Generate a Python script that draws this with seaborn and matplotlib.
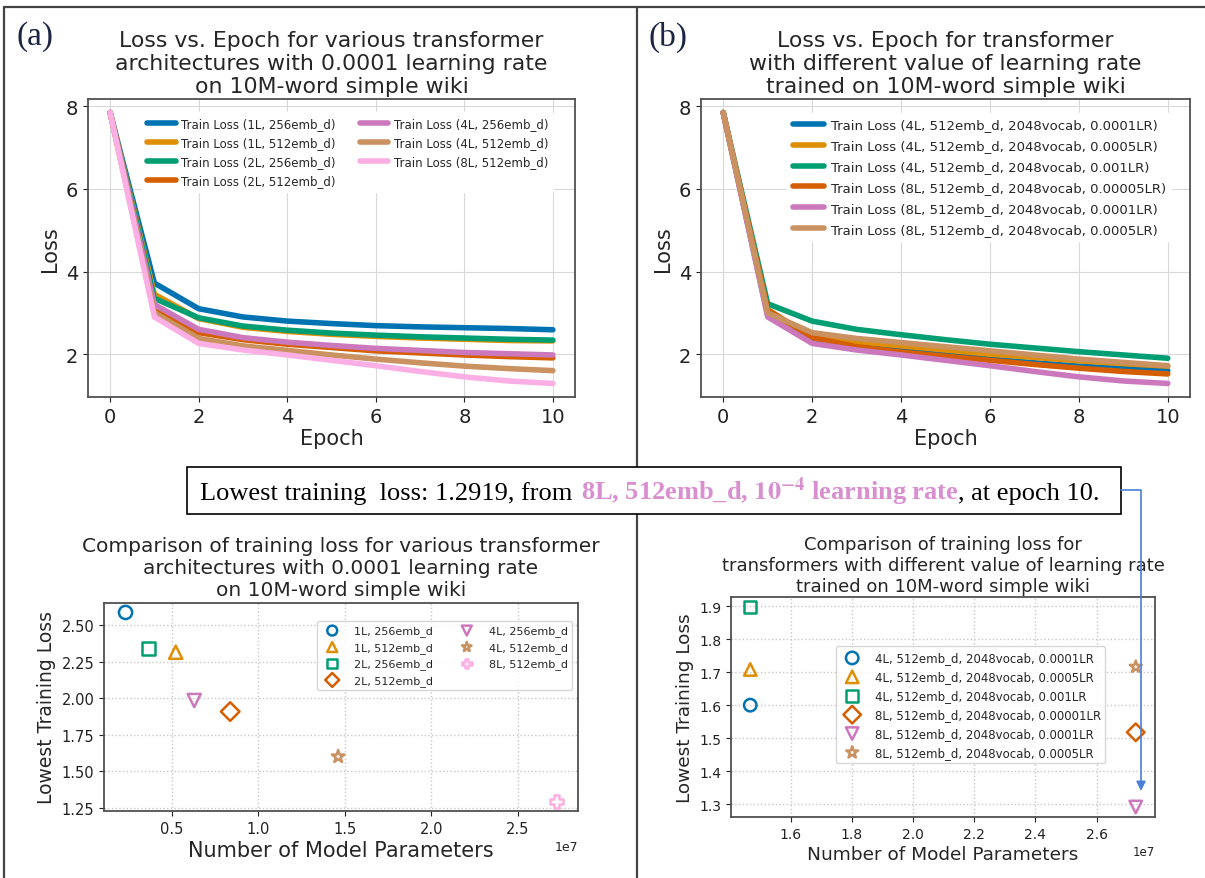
import numpy as np
import pandas as pd
import matplotlib
matplotlib.use("Agg")
import matplotlib.pyplot as plt
import seaborn as sns
from matplotlib.lines import Line2D
from matplotlib.patches import Rectangle, FancyArrowPatch
from matplotlib.offsetbox import TextArea, HPacker, AnchoredOffsetbox

W, H = 1205, 879

# ---- data ----
epochs = list(range(11))

# (a) architectures, lr 0.0001
arch_labels = ["Train Loss (1L, 256emb_d)", "Train Loss (1L, 512emb_d)",
               "Train Loss (2L, 256emb_d)", "Train Loss (2L, 512emb_d)",
               "Train Loss (4L, 256emb_d)", "Train Loss (4L, 512emb_d)",
               "Train Loss (8L, 512emb_d)"]
loss_1L_256 = [7.85, 3.72, 3.10, 2.90, 2.80, 2.74, 2.69, 2.66, 2.64, 2.62, 2.59]
loss_1L_512 = [7.85, 3.45, 2.86, 2.65, 2.55, 2.48, 2.43, 2.39, 2.36, 2.33, 2.32]
loss_2L_256 = [7.85, 3.35, 2.88, 2.68, 2.58, 2.51, 2.46, 2.42, 2.39, 2.36, 2.34]
loss_2L_512 = [7.85, 3.10, 2.52, 2.35, 2.24, 2.16, 2.08, 2.03, 1.98, 1.94, 1.91]
loss_4L_256 = [7.85, 3.20, 2.60, 2.40, 2.29, 2.21, 2.14, 2.09, 2.04, 2.01, 1.98]
loss_4L_512 = [7.85, 3.00, 2.38, 2.20, 2.09, 1.98, 1.88, 1.79, 1.71, 1.65, 1.60]
loss_8L_512 = [7.85, 2.90, 2.26, 2.10, 1.98, 1.85, 1.72, 1.58, 1.45, 1.35, 1.29]

# (b) learning rates
lr_labels = ["Train Loss (4L, 512emb_d, 2048vocab, 0.0001LR)",
             "Train Loss (4L, 512emb_d, 2048vocab, 0.0005LR)",
             "Train Loss (4L, 512emb_d, 2048vocab, 0.001LR)",
             "Train Loss (8L, 512emb_d, 2048vocab, 0.00005LR)",
             "Train Loss (8L, 512emb_d, 2048vocab, 0.0001LR)",
             "Train Loss (8L, 512emb_d, 2048vocab, 0.0005LR)"]
loss_4L_1e4 = [7.85, 2.95, 2.38, 2.20, 2.09, 1.98, 1.88, 1.79, 1.71, 1.65, 1.60]
loss_4L_5e4 = [7.85, 3.00, 2.45, 2.30, 2.20, 2.10, 2.00, 1.92, 1.84, 1.77, 1.71]
loss_4L_1e3 = [7.85, 3.22, 2.80, 2.60, 2.47, 2.35, 2.24, 2.15, 2.06, 1.98, 1.90]
loss_8L_5e5 = [7.85, 3.08, 2.40, 2.18, 2.05, 1.95, 1.85, 1.75, 1.66, 1.58, 1.52]
loss_8L_1e4 = [7.85, 2.90, 2.26, 2.10, 1.98, 1.85, 1.72, 1.58, 1.45, 1.35, 1.29]
loss_8L_5e4 = [7.85, 3.00, 2.52, 2.38, 2.28, 2.18, 2.08, 1.98, 1.88, 1.80, 1.72]

# (c) lowest loss vs parameters, architectures
arch_pt_labels = ["1L, 256emb_d", "1L, 512emb_d", "2L, 256emb_d", "2L, 512emb_d",
                  "4L, 256emb_d", "4L, 512emb_d", "8L, 512emb_d"]
arch_params = [0.233e7, 0.523e7, 0.368e7, 0.838e7, 0.630e7, 1.462e7, 2.724e7]
arch_lowest = [2.589, 2.316, 2.343, 1.909, 1.985, 1.600, 1.2919]
arch_markers = ["o", "^", "s", "D", "v", "*", "P"]

# (d) lowest loss vs parameters, learning rates
lr_pt_labels = ["4L, 512emb_d, 2048vocab, 0.0001LR", "4L, 512emb_d, 2048vocab, 0.0005LR",
                "4L, 512emb_d, 2048vocab, 0.001LR", "8L, 512emb_d, 2048vocab, 0.00001LR",
                "8L, 512emb_d, 2048vocab, 0.0001LR", "8L, 512emb_d, 2048vocab, 0.0005LR"]
lr_params = [1.468e7, 1.468e7, 1.468e7, 2.728e7, 2.728e7, 2.728e7]
lr_lowest = [1.600, 1.708, 1.897, 1.518, 1.2919, 1.716]
lr_markers = ["o", "^", "s", "D", "v", "*"]

# ---- style ----
sns.set_style("whitegrid", {"axes.edgecolor": "#505050", "grid.color": "#d9d9d9",
                            "xtick.bottom": True, "ytick.left": True,
                            "xtick.color": "#222222", "ytick.color": "#222222"})
plt.rcParams["font.family"] = ["DejaVu Sans"]
plt.rcParams["mathtext.fontset"] = "stix"
plt.rcParams["axes.linewidth"] = 1.3
palette = sns.color_palette("colorblind", 7)


def px_rect(left, top, right, bottom):
    """Figure-fraction rect from pixel edges (origin top-left)."""
    return [left / W, 1 - bottom / H, (right - left) / W, (bottom - top) / H]


fig = plt.figure(figsize=(W / 100, H / 100), dpi=100)


def line_panel(rect, labels, series, title, legend_kw):
    ax = fig.add_axes(rect)
    df = pd.DataFrame({
        "Epoch": np.tile(epochs, len(series)),
        "Loss": np.concatenate(series),
        "run": np.repeat(labels, len(epochs)),
    })
    sns.lineplot(data=df, x="Epoch", y="Loss", hue="run", hue_order=labels,
                 palette=palette[:len(labels)], linewidth=4, errorbar=None, ax=ax)
    ax.set_xticks([0, 2, 4, 6, 8, 10])
    ax.set_yticks([2, 4, 6, 8])
    ax.tick_params(labelsize=14, length=3.5)
    ax.set_xlabel("Epoch", fontsize=15, labelpad=2)
    ax.set_ylabel("Loss", fontsize=15)
    ax.set_title(title, fontsize=15.8, pad=5)
    sns.move_legend(ax, "upper right", title=None, frameon=True, framealpha=1,
                    edgecolor="white", handlelength=2.4, handletextpad=0.5,
                    **legend_kw)
    for h in ax.get_legend().legend_handles:
        h.set_linewidth(4)
    return ax


def scatter_panel(rect, labels, params, lowest, markers, title, title_size,
                  label_size, tick_size, size, title_pad):
    ax = fig.add_axes(rect)
    for i, (lab, px, lo, mk) in enumerate(zip(labels, params, lowest, markers)):
        sns.scatterplot(x=[px], y=[lo], marker=mk, s=size, color=palette[i],
                        facecolors="none", edgecolor=palette[i], linewidth=1.8,
                        label=lab, ax=ax)
    ax.grid(True, linestyle=":", color="#c8c8c8", linewidth=1)
    ax.tick_params(labelsize=tick_size, length=3.5)
    ax.xaxis.get_offset_text().set_fontsize(tick_size - 1.5)
    ax.set_xlabel("Number of Model Parameters", fontsize=label_size[0], labelpad=3)
    ax.set_ylabel("Lowest Training Loss", fontsize=label_size[1])
    ax.set_title(title, fontsize=title_size, pad=title_pad)
    return ax


ax_a = line_panel(px_rect(88, 100, 575, 398),
                  arch_labels,
                  [loss_1L_256, loss_1L_512, loss_2L_256, loss_2L_512,
                   loss_4L_256, loss_4L_512, loss_8L_512],
                  "Loss vs. Epoch for various transformer\n"
                  "architectures with 0.0001 learning rate\n"
                  "on 10M-word simple wiki",
                  dict(ncol=2, fontsize=8.5, columnspacing=2.0, labelspacing=0.52,
                       bbox_to_anchor=(0.967, 0.975), borderaxespad=0.5))

ax_b = line_panel(px_rect(701, 100, 1190, 398),
                  lr_labels,
                  [loss_4L_1e4, loss_4L_5e4, loss_4L_1e3,
                   loss_8L_5e5, loss_8L_1e4, loss_8L_5e4],
                  "Loss vs. Epoch for transformer\n"
                  "with different value of learning rate\n"
                  "trained on 10M-word simple wiki",
                  dict(ncol=1, fontsize=9.5, labelspacing=0.6,
                       bbox_to_anchor=(0.975, 0.975), borderaxespad=0.5))

ax_c = scatter_panel(px_rect(104, 604, 578, 812), arch_pt_labels, arch_params,
                     arch_lowest, arch_markers,
                     "Comparison of training loss for various transformer\n"
                     "architectures with 0.0001 learning rate\n"
                     "on 10M-word simple wiki", 14.5, (15, 13.5), 10.5, 90, 6)
ax_c.set_yticks([1.25, 1.50, 1.75, 2.00, 2.25, 2.50])
ax_c.legend(loc="upper right", bbox_to_anchor=(1.0, 0.94), ncol=2, fontsize=8,
            markerscale=0.75, columnspacing=2.0, handletextpad=1.0)

ax_d = scatter_panel(px_rect(731, 598, 1155, 818), lr_pt_labels, lr_params,
                     lr_lowest, lr_markers,
                     "Comparison of training loss for\n"
                     "transformers with different value of learning rate\n"
                     "trained on 10M-word simple wiki", 13, (13.3, 13.3), 10, 80, 4.5)
ax_d.set_yticks([1.3, 1.4, 1.5, 1.6, 1.7, 1.8, 1.9])
ax_d.legend(loc="center", bbox_to_anchor=(0.565, 0.51), fontsize=8.5,
            markerscale=1.0, handletextpad=0.9)

# ---- overlay: frame lines, panel tags, note box and arrow ----
ov = fig.add_axes([0, 0, 1, 1])
ov.set_xlim(0, W)
ov.set_ylim(H, 0)
ov.axis("off")

frame_kw = dict(color="#444444", linewidth=1.6)
ov.add_line(Line2D([4, W], [7.5, 7.5], **frame_kw))
ov.add_line(Line2D([4, 4], [7.5, H], **frame_kw))
ov.add_line(Line2D([637, 637], [7.5, H], **frame_kw))

ov.text(17, 37, "(a)", family="Liberation Serif", fontsize=24, va="center", color="#1c2541")
ov.text(648, 37, "(b)", family="Liberation Serif", fontsize=24, va="center", color="#1c2541")

ov.add_patch(Rectangle((187, 468), 934, 47, facecolor="white", edgecolor="black",
                       linewidth=1.2, zorder=3))
note_font = dict(family="Liberation Serif", size=19)
pink = "#d98ed0"
t1 = TextArea("Lowest training  loss: 1.2919, from", textprops=dict(color="black", **note_font))
t2 = TextArea(r"8L, 512emb_d, $\mathbf{10^{-4}}$ learning rate",
              textprops=dict(color=pink, weight="bold", **note_font))
t3 = TextArea(", at epoch 10.", textprops=dict(color="black", **note_font))
note = HPacker(children=[t1, HPacker(children=[t2, t3], sep=0, align="baseline")],
               sep=6, align="baseline")
note_box = AnchoredOffsetbox(loc="center", child=note, frameon=False, pad=0, borderpad=0,
                             bbox_to_anchor=(650, 491.5), bbox_transform=ov.transData)
note_box.set_zorder(4)
ov.add_artist(note_box)

arrow = FancyArrowPatch((1121, 491), (1141, 792),
                        connectionstyle="angle,angleA=0,angleB=90,rad=0",
                        arrowstyle="-|>", mutation_scale=14, color="#4a7fd6",
                        linewidth=1.2, shrinkA=0, shrinkB=0, zorder=5)
ov.add_patch(arrow)

fig.savefig("out.png", dpi=100)
